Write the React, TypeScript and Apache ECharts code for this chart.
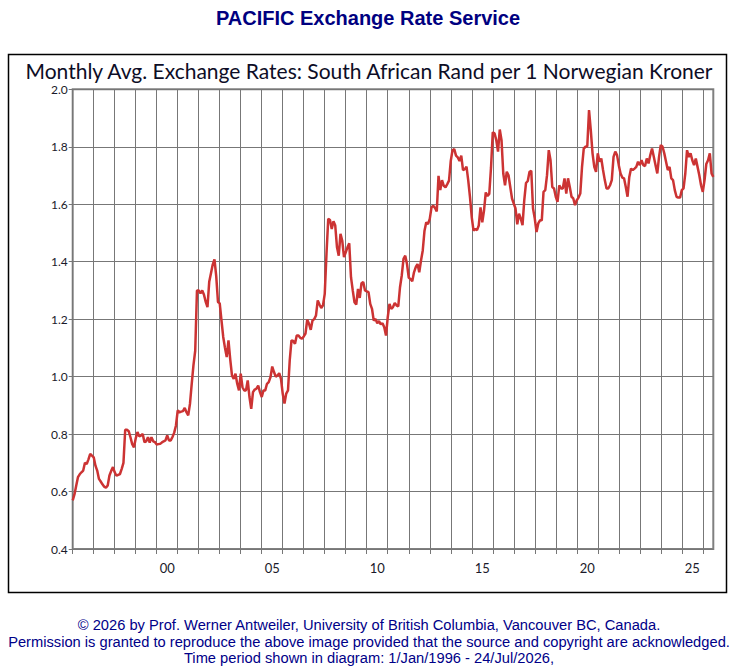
import { useEffect, useRef } from "react";
import * as echarts from "echarts";

// Monthly average ZAR per 1 NOK, January 1996 onward, one row per year.
const rates1996to2005 = [
  0.569, 0.59, 0.62, 0.65, 0.66, 0.667, 0.673, 0.7, 0.696, 0.712, 0.731, 0.725,
  0.719, 0.69, 0.673, 0.644, 0.635, 0.625, 0.617, 0.613, 0.621, 0.656, 0.672, 0.685,
  0.667, 0.655, 0.658, 0.661, 0.679, 0.7, 0.815, 0.815, 0.81, 0.789, 0.765, 0.754,
  0.785, 0.807, 0.792, 0.795, 0.8, 0.772, 0.775, 0.789, 0.77, 0.789, 0.775, 0.772,
  0.764, 0.765, 0.766, 0.771, 0.775, 0.778, 0.795, 0.778, 0.778, 0.79, 0.805, 0.83,
  0.882, 0.876, 0.878, 0.88, 0.891, 0.876, 0.865, 0.905, 0.975, 1.04, 1.09, 1.3,
  1.3, 1.29, 1.3, 1.285, 1.26, 1.242, 1.33, 1.36, 1.39, 1.408, 1.35, 1.26,
  1.255, 1.196, 1.138, 1.1, 1.068, 1.126, 1.06, 1.004, 0.992, 1.01, 0.975, 0.952,
  1.01, 0.963, 0.952, 0.952, 0.987, 0.929, 0.888, 0.946, 0.955, 0.958, 0.969, 0.946,
  0.929, 0.952, 0.952, 0.975, 0.981, 0.998, 1.035, 1.016, 1.0, 1.004, 1.012, 0.992,
];

const rates2006to2015 = [
  0.94, 0.906, 0.941, 0.952, 1.057, 1.126, 1.124, 1.114, 1.143, 1.143, 1.135, 1.132,
  1.14, 1.15, 1.198, 1.184, 1.163, 1.195, 1.2, 1.213, 1.265, 1.251, 1.239, 1.248,
  1.288, 1.427, 1.549, 1.545, 1.514, 1.541, 1.526, 1.45, 1.421, 1.497, 1.473, 1.416,
  1.433, 1.45, 1.464, 1.346, 1.3, 1.259, 1.251, 1.305, 1.274, 1.325, 1.329, 1.3,
  1.297, 1.294, 1.253, 1.236, 1.195, 1.201, 1.186, 1.193, 1.182, 1.186, 1.172, 1.143,
  1.207, 1.253, 1.236, 1.242, 1.256, 1.248, 1.244, 1.311, 1.352, 1.41, 1.421, 1.392,
  1.344, 1.34, 1.332, 1.363, 1.381, 1.392, 1.363, 1.404, 1.439, 1.508, 1.537, 1.531,
  1.549, 1.589, 1.595, 1.587, 1.575, 1.699, 1.649, 1.684, 1.664, 1.659, 1.67, 1.682,
  1.751, 1.788, 1.792, 1.769, 1.763, 1.751, 1.769, 1.719, 1.722, 1.731, 1.682, 1.624,
  1.554, 1.508, 1.514, 1.51, 1.526, 1.589, 1.537, 1.578, 1.641, 1.629, 1.636, 1.728,
];

const rates2016to2026 = [
  1.85, 1.847, 1.823, 1.783, 1.86, 1.823, 1.707, 1.666, 1.713, 1.701, 1.66, 1.62,
  1.602, 1.585, 1.53, 1.567, 1.55, 1.527, 1.614, 1.674, 1.681, 1.713, 1.716, 1.585,
  1.55, 1.503, 1.533, 1.544, 1.544, 1.643, 1.649, 1.701, 1.788, 1.753, 1.66, 1.655,
  1.626, 1.608, 1.666, 1.655, 1.655, 1.69, 1.637, 1.69, 1.66, 1.626, 1.62, 1.597,
  1.614, 1.623, 1.637, 1.73, 1.794, 1.8, 1.802, 1.928, 1.858, 1.777, 1.73, 1.713,
  1.777, 1.748, 1.759, 1.719, 1.684, 1.655, 1.655, 1.666, 1.684, 1.765, 1.783, 1.771,
  1.736, 1.707, 1.693, 1.69, 1.66, 1.626, 1.695, 1.724, 1.719, 1.724, 1.73, 1.748,
  1.736, 1.753, 1.736, 1.733, 1.759, 1.742, 1.771, 1.794, 1.765, 1.736, 1.707, 1.765,
  1.806, 1.8, 1.777, 1.748, 1.719, 1.73, 1.69, 1.684, 1.649, 1.626, 1.623, 1.623,
  1.649, 1.655, 1.707, 1.788, 1.765, 1.777, 1.753, 1.736, 1.759, 1.73, 1.701, 1.666,
  1.643, 1.684, 1.74, 1.753, 1.777, 1.707, 1.695,
];

const firstYear = 1996;
const yMin = 0.4;
const yMax = 2.0;
const yStep = 0.2;

const pageTitle = "PACIFIC Exchange Rate Service";
const chartTitle =
  "Monthly Avg. Exchange Rates: South African Rand per 1 Norwegian Kroner";
const footerLines = [
  "\u00a9 2026 by Prof. Werner Antweiler, University of British Columbia, Vancouver BC, Canada.",
  "Permission is granted to reproduce the above image provided that the source and copyright are acknowledged.",
  "Time period shown in diagram: 1/Jan/1996 - 24/Jul/2026,",
];

const rates = [...rates1996to2005, ...rates2006to2015, ...rates2016to2026];

// One category per month, "YYYY-MM"
const months = rates.map((_, i) => {
  const y = firstYear + Math.floor(i / 12);
  const m = (i % 12) + 1;
  return `${y}-${m < 10 ? "0" : ""}${m}`;
});

const GRID_COLOR = "#777";
const TEXT_FONT = "Lato";
const FOOTER_FONT = '"Liberation Sans", Arial, sans-serif';

export default function App() {
  const ref = useRef<HTMLDivElement>(null);

  useEffect(() => {
    const el = ref.current;
    if (!el) return;
    const chart = echarts.init(el, null, { renderer: "svg" });

    const yearStart = (i: number) => i % 12 === 0;

    chart.setOption({
      animation: false,
      backgroundColor: "#fff",
      grid: {
        left: 72.7,
        right: 26.7,
        top: 89.3,
        bottom: 123,
        show: true,
        borderColor: "#808080",
        borderWidth: 2,
        backgroundColor: "transparent",
      },
      xAxis: {
        type: "category",
        data: months,
        boundaryGap: false,
        axisLine: { show: false },
        axisTick: {
          show: true,
          interval: yearStart,
          length: 5,
          lineStyle: { color: GRID_COLOR, width: 1 },
        },
        splitLine: {
          show: true,
          interval: yearStart,
          lineStyle: { color: GRID_COLOR, width: 1 },
        },
        axisLabel: {
          // label sits in the middle of every fifth year (July)
          interval: (i: number) => i % 60 === 54,
          formatter: (v: string) => v.slice(2, 4),
          color: "#1a1a2a",
          fontFamily: TEXT_FONT,
          fontSize: 13,
          margin: 12,
        },
      },
      yAxis: {
        type: "value",
        min: yMin,
        max: yMax,
        interval: yStep,
        axisLine: { show: false },
        axisTick: {
          show: true,
          length: 4,
          lineStyle: { color: GRID_COLOR, width: 1 },
        },
        splitLine: { show: true, lineStyle: { color: GRID_COLOR, width: 1 } },
        axisLabel: {
          formatter: (v: number) => v.toFixed(1),
          color: "#1a1a2a",
          fontFamily: TEXT_FONT,
          fontSize: 12,
          margin: 5,
        },
      },
      series: [
        {
          type: "line",
          data: rates,
          symbol: "none",
          showSymbol: false,
          lineStyle: { color: "#cc3333", width: 2.5 },
          z: 5,
        },
      ],
      graphic: [
        {
          type: "rect",
          shape: { x: 8.5, y: 54.5, width: 718, height: 538 },
          style: { fill: "none", stroke: "#000", lineWidth: 1.5 },
          silent: true,
        },
        {
          type: "text",
          x: 368,
          y: 18,
          style: {
            text: pageTitle,
            fill: "#000080",
            font: `bold 20px ${FOOTER_FONT}`,
            align: "center",
            verticalAlign: "middle",
          },
        },
        {
          type: "text",
          x: 369,
          y: 70,
          style: {
            text: chartTitle,
            fill: "#0d0d26",
            font: `21px ${TEXT_FONT}`,
            align: "center",
            verticalAlign: "middle",
          },
        },
        ...footerLines.map((line, i) => ({
          type: "text",
          x: 369,
          y: 625 + i * 16.5,
          style: {
            text: line,
            fill: "#000088",
            font: `14.7px ${FOOTER_FONT}`,
            align: "center",
            verticalAlign: "middle",
          },
        })),
      ],
    });

    return () => chart.dispose();
  }, []);

  return (
    <div
      ref={ref}
      style={{ position: "absolute", left: 0, top: 0, width: 740, height: 672 }}
    />
  );
}
